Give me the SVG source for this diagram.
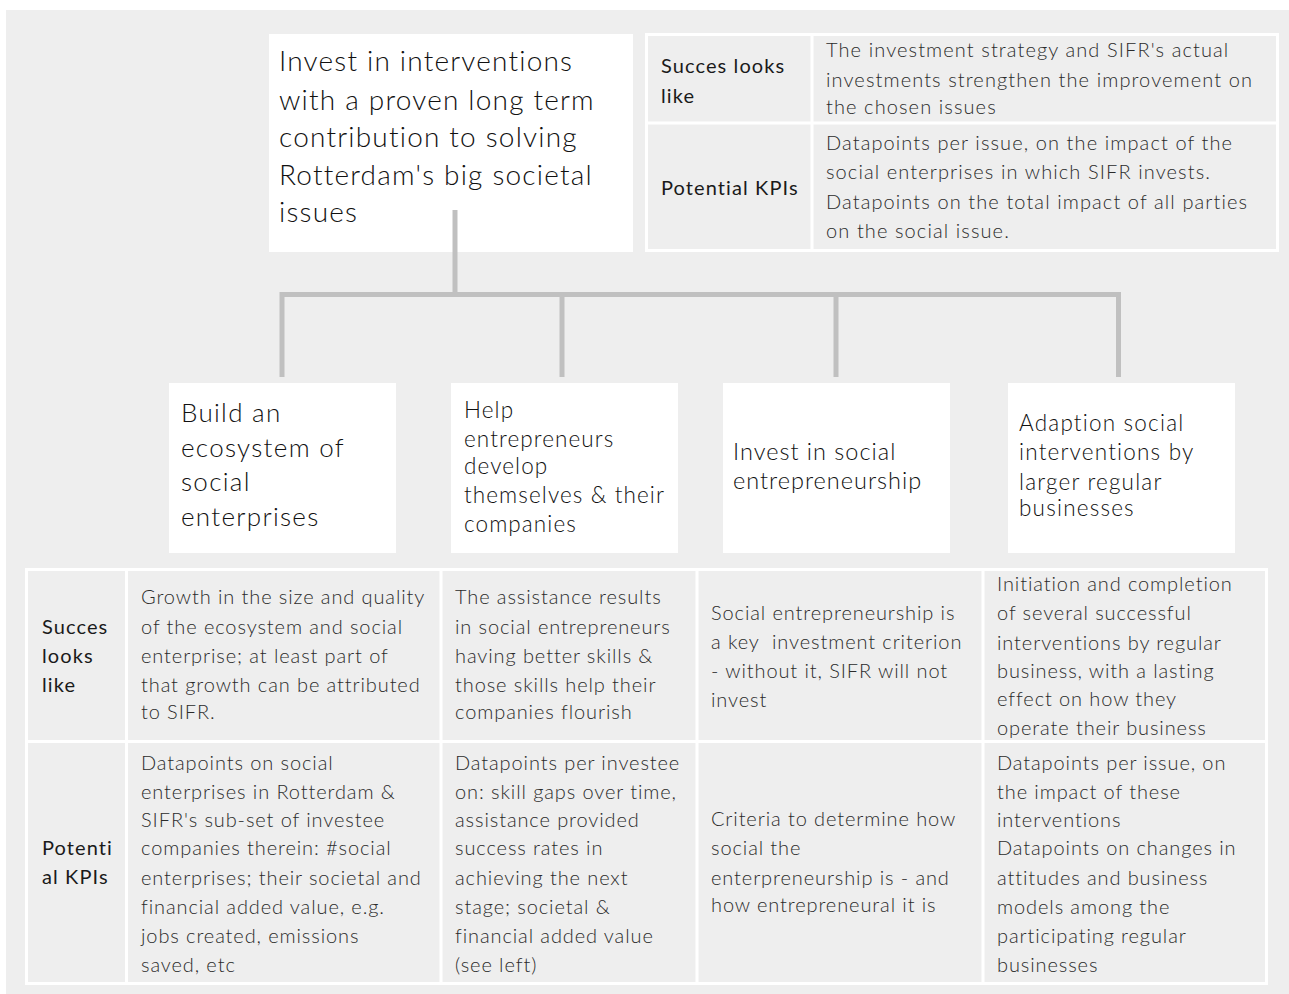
<svg xmlns="http://www.w3.org/2000/svg" width="1289" height="994" viewBox="0 0 1289 994">
  <style>
    .bg { fill: #eeeeee; }
    .node { fill: #ffffff; }
    .grid { fill: none; stroke: #ffffff; stroke-width: 3; }
    .link { fill: none; stroke: #c0c0c0; stroke-width: 5; stroke-linecap: butt; }
    .title { font-family: Lato, "Open Sans", "Liberation Sans", sans-serif; font-weight: 300; fill: #111111; }
    .body { font-family: Lato, "Open Sans", "Liberation Sans", sans-serif; font-weight: 300; font-size: 20px; letter-spacing: 0.9px; fill: #2b2b2b; }
    .label { font-family: Lato, "Open Sans", "Liberation Sans", sans-serif; font-weight: 400; font-size: 20px; letter-spacing: 1.1px; fill: #1a1a1a; }
    .wide { letter-spacing: 1.1px; }
  </style>

  <rect class="bg" x="6" y="10" width="1283" height="984"/>

  <!-- tree connectors -->
  <g id="connectors">
    <path class="link" d="M455 210 V294.5"/>
    <path class="link" d="M282 377 V294.5 H1118.5 V377"/>
    <path class="link" d="M562 294.5 V377"/>
    <path class="link" d="M836 294.5 V377"/>
  </g>

  <!-- root goal -->
  <g id="root">
    <rect class="node" x="269" y="34" width="364" height="218"/>
    <path class="link" d="M455 210 V252"/>
    <text class="title" font-size="28" letter-spacing="1.2">
      <tspan x="279" y="71">Invest in interventions</tspan>
      <tspan x="279" y="110">with a proven long term</tspan>
      <tspan x="279" y="147">contribution to solving</tspan>
      <tspan x="279" y="185">Rotterdam's big societal</tspan>
      <tspan x="279" y="222">issues</tspan>
    </text>
  </g>

  <!-- root success / KPI table -->
  <g id="root-table">
    <rect class="grid" x="646.5" y="34.5" width="631" height="216"/>
    <path class="grid" d="M812 34.5 V250.5 M646.5 123 H1277.5"/>
    <text class="label">
      <tspan x="661" y="73">Succes looks</tspan>
      <tspan x="661" y="103">like</tspan>
      <tspan x="661" y="195">Potential KPIs</tspan>
    </text>
    <text class="body wide">
      <tspan x="826" y="57">The investment strategy and SIFR's actual</tspan>
      <tspan x="826" y="87">investments strengthen the improvement on</tspan>
      <tspan x="826" y="114">the chosen issues</tspan>
      <tspan x="826" y="150">Datapoints per issue, on the impact of the</tspan>
      <tspan x="826" y="179">social enterprises in which SIFR invests.</tspan>
      <tspan x="826" y="209">Datapoints on the total impact of all parties</tspan>
      <tspan x="826" y="238">on the social issue.</tspan>
    </text>
  </g>

  <!-- sub-goals -->
  <g id="ecosystem">
    <rect class="node" x="169" y="383" width="227" height="170"/>
    <text class="title" font-size="26" letter-spacing="1.3">
      <tspan x="181" y="422">Build an</tspan>
      <tspan x="181" y="457">ecosystem of</tspan>
      <tspan x="181" y="491">social</tspan>
      <tspan x="181" y="526">enterprises</tspan>
    </text>
  </g>

  <g id="develop">
    <rect class="node" x="451" y="383" width="227" height="170"/>
    <text class="title" font-size="22.5" letter-spacing="1.1">
      <tspan x="464" y="418">Help</tspan>
      <tspan x="464" y="447">entrepreneurs</tspan>
      <tspan x="464" y="474">develop</tspan>
      <tspan x="464" y="503">themselves &amp; their</tspan>
      <tspan x="464" y="532">companies</tspan>
    </text>
  </g>

  <g id="invest-social">
    <rect class="node" x="723" y="383" width="227" height="170"/>
    <text class="title" font-size="23.5" letter-spacing="1">
      <tspan x="733" y="460">Invest in social</tspan>
      <tspan x="733" y="489">entrepreneurship</tspan>
    </text>
  </g>

  <g id="adaption">
    <rect class="node" x="1008" y="383" width="227" height="170"/>
    <text class="title" font-size="22.5" letter-spacing="1.2">
      <tspan x="1019" y="431">Adaption social</tspan>
      <tspan x="1019" y="460">interventions by</tspan>
      <tspan x="1019" y="490">larger regular</tspan>
      <tspan x="1019" y="516">businesses</tspan>
    </text>
  </g>

  <!-- sub-goal success / KPI table -->
  <g id="sub-table">
    <rect class="grid" x="26.5" y="569.5" width="1240" height="414"/>
    <path class="grid" d="M126.5 569.5 V983.5 M441 569.5 V983.5 M697 569.5 V983.5 M983 569.5 V983.5 M26.5 741.5 H1266.5"/>
    <text class="label">
      <tspan x="42" y="634">Succes</tspan>
      <tspan x="42" y="663">looks</tspan>
      <tspan x="42" y="692">like</tspan>
      <tspan x="42" y="855">Potenti</tspan>
      <tspan x="42" y="884">al KPIs</tspan>
    </text>
    <text class="body">
      <tspan x="141" y="604">Growth in the size and quality</tspan>
      <tspan x="141" y="634">of the ecosystem and social</tspan>
      <tspan x="141" y="663">enterprise; at least part of</tspan>
      <tspan x="141" y="692">that growth can be attributed</tspan>
      <tspan x="141" y="719">to SIFR.</tspan>
      <tspan x="141" y="770">Datapoints on social</tspan>
      <tspan x="141" y="799">enterprises in Rotterdam &amp;</tspan>
      <tspan x="141" y="827">SIFR's sub-set of investee</tspan>
      <tspan x="141" y="855">companies therein: #social</tspan>
      <tspan x="141" y="885">enterprises; their societal and</tspan>
      <tspan x="141" y="914">financial added value, e.g.</tspan>
      <tspan x="141" y="943">jobs created, emissions</tspan>
      <tspan x="141" y="972">saved, etc</tspan>
    </text>
    <text class="body">
      <tspan x="455" y="604">The assistance results</tspan>
      <tspan x="455" y="634">in social entrepreneurs</tspan>
      <tspan x="455" y="663">having better skills &amp;</tspan>
      <tspan x="455" y="692">those skills help their</tspan>
      <tspan x="455" y="719">companies flourish</tspan>
      <tspan x="455" y="770">Datapoints per investee</tspan>
      <tspan x="455" y="799">on: skill gaps over time,</tspan>
      <tspan x="455" y="827">assistance provided</tspan>
      <tspan x="455" y="855">success rates in</tspan>
      <tspan x="455" y="885">achieving the next</tspan>
      <tspan x="455" y="914">stage; societal &amp;</tspan>
      <tspan x="455" y="943">financial added value</tspan>
      <tspan x="455" y="972">(see left)</tspan>
    </text>
    <text class="body">
      <tspan x="711" y="620">Social entrepreneurship is</tspan>
      <tspan x="711" y="649">a key&#160; investment criterion</tspan>
      <tspan x="711" y="678">- without it, SIFR will not</tspan>
      <tspan x="711" y="707">invest</tspan>
      <tspan x="711" y="826">Criteria to determine how</tspan>
      <tspan x="711" y="855">social the</tspan>
      <tspan x="711" y="885">enterpreneurship is - and</tspan>
      <tspan x="711" y="912">how entrepreneural it is</tspan>
    </text>
    <text class="body">
      <tspan x="997" y="591">Initiation and completion</tspan>
      <tspan x="997" y="620">of several successful</tspan>
      <tspan x="997" y="650">interventions by regular</tspan>
      <tspan x="997" y="678">business, with a lasting</tspan>
      <tspan x="997" y="706">effect on how they</tspan>
      <tspan x="997" y="735">operate their business</tspan>
      <tspan x="997" y="770">Datapoints per issue, on</tspan>
      <tspan x="997" y="799">the impact of these</tspan>
      <tspan x="997" y="827">interventions</tspan>
      <tspan x="997" y="855">Datapoints on changes in</tspan>
      <tspan x="997" y="885">attitudes and business</tspan>
      <tspan x="997" y="914">models among the</tspan>
      <tspan x="997" y="943">participating regular</tspan>
      <tspan x="997" y="972">businesses</tspan>
    </text>
  </g>
</svg>
